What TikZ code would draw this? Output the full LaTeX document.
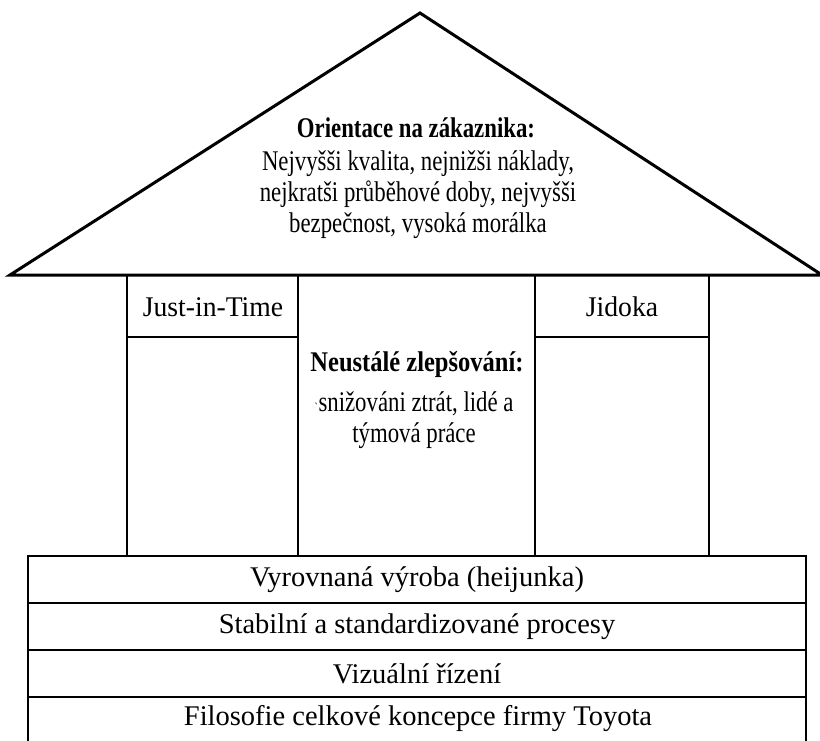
\documentclass[tikz,border=0pt]{standalone}
\usepackage{fontspec}
\setmainfont{Liberation Serif}
% condensed cuts of the same face for the roof and the middle column
\newfontfamily\condserif[FakeStretch=0.80]{Liberation Serif}
\newfontfamily\condheadserif[FakeStretch=0.86]{Liberation Serif}
\newfontfamily\slightcondserif[FakeStretch=0.97]{Liberation Serif}
\begin{document}
\begin{tikzpicture}[x=1pt,y=-1pt,
  line join=miter,
  thick line/.style={line width=3pt},
  frame line/.style={line width=2.2pt},
  label text/.style={font=\fontsize{28.5}{31}\selectfont, inner sep=0pt, align=center},
  roof text/.style={font=\condserif\fontsize{28.5}{31}\selectfont, inner sep=0pt, align=center},
  roof head/.style={font=\condserif\fontsize{28.5}{31}\selectfont\bfseries, inner sep=0pt, align=center},
  column head/.style={font=\condheadserif\fontsize{28.5}{31}\selectfont\bfseries, inner sep=0pt, align=center},
  pillar text/.style={font=\slightcondserif\fontsize{28.5}{31}\selectfont, inner sep=0pt, align=center}]
\useasboundingbox (0,0) rectangle (820,740);
\clip (0,0) rectangle (820,740);

% roof
\draw[thick line] (10,275) -- (420,13) -- (822,275) -- cycle;

% pillars
\draw[frame line] (127,275) -- (127,556);
\draw[frame line] (298,275) -- (298,556);
\draw[frame line] (535,275) -- (535,556);
\draw[frame line] (709,275) -- (709,556);
\draw[frame line] (127,337) -- (298,337);
\draw[frame line] (535,337) -- (709,337);

% foundation rows
\draw[frame line] (28,760) -- (28,556) -- (806,556) -- (806,760);
\draw[frame line] (28,603) -- (806,603);
\draw[frame line] (28,650) -- (806,650);
\draw[frame line] (28,697) -- (806,697);

% roof text
\node[roof head] (roofhead) at (416,128) {Orientace na zákaznika:};
\node[roof text] (roofbody) at (418,195) {Nejvyšši kvalita, nejnižši náklady,\\nejkratši průběhové doby, nejvyšši\\bezpečnost, vysoká morálka};

% pillar headings
\node[pillar text] (jit) at (213,307) {Just-in-Time};
\node[pillar text] (jidoka) at (622,307) {Jidoka};

% middle column
\node[column head] (kaizen) at (417,364) {Neustálé zlepšování:};
\node[roof text] (kaizenbody) at (414,420) {{\fontsize{12}{12}\selectfont\textasciigrave}snižováni ztrát, lidé a\\týmová práce};

% foundation texts
\node[label text] (heijunka) at (417,580) {Vyrovnaná výroba (heijunka)};
\node[label text] (standard) at (417,627) {Stabilní a standardizované procesy};
\node[label text] (visual) at (417,674) {Vizuální řízení};
\node[label text] (philo) at (418,719) {Filosofie celkové koncepce firmy Toyota};
\end{tikzpicture}
\end{document}
